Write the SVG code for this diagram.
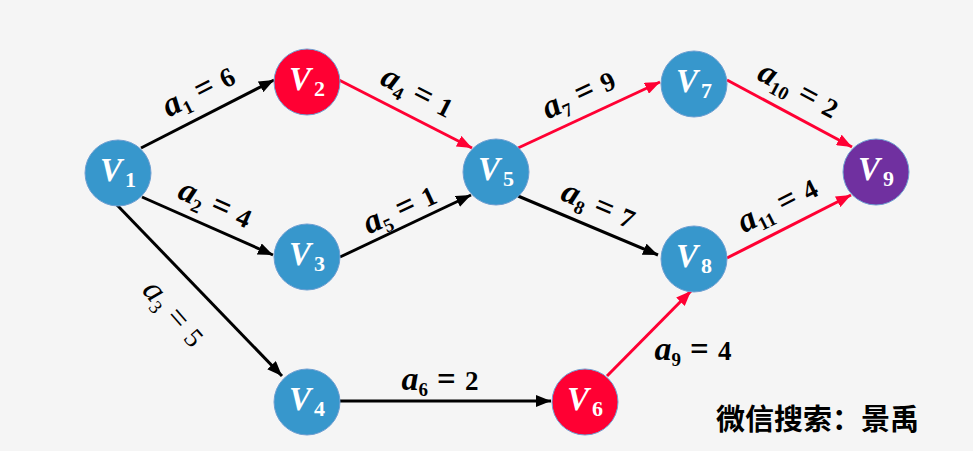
<svg xmlns="http://www.w3.org/2000/svg" width="973" height="451" viewBox="0 0 973 451">
<style>
.bg{fill:#f5f5f5}
.nd{stroke:#6e9fd2;stroke-width:1}
.blue{fill:#3797cc}.red{fill:#ff0033}.pur{fill:#7030a0}
.nt{fill:#fff;font-family:"Liberation Serif",serif;font-weight:bold;text-anchor:middle}
.V{font-style:italic;font-size:33px}
.ns{font-size:22px}
.e{fill:none;stroke-width:3}
.k{stroke:#000}.r{stroke:#ff0033}
.lb{font-family:"Liberation Serif",serif;font-weight:bold;font-size:27px;fill:#000;text-anchor:middle}
.va{font-style:italic;font-size:34px}
.sb{font-size:19px}
.eq{font-size:33px}
.lr{font-weight:normal}
.wm{font-family:"Noto Sans CJK SC",sans-serif;font-weight:bold;font-size:29px;fill:#000}
</style>
<defs>
<marker id="ak" markerUnits="userSpaceOnUse" markerWidth="16" markerHeight="12" refX="15" refY="6" orient="auto"><path d="M0,0 L15,6 L0,12 z" fill="#000"/></marker>
<marker id="ar" markerUnits="userSpaceOnUse" markerWidth="16" markerHeight="12" refX="15" refY="6" orient="auto"><path d="M0,0 L15,6 L0,12 z" fill="#ff0033"/></marker>
</defs>
<rect class="bg" x="0" y="0" width="973" height="451"/>
<g id="edges">
<line class="e k" x1="141" y1="148" x2="274" y2="80" marker-end="url(#ak)"/>
<line class="e r" x1="339" y1="80" x2="472" y2="148" marker-end="url(#ar)"/>
<line class="e k" x1="142" y1="197" x2="273" y2="255" marker-end="url(#ak)"/>
<line class="e k" x1="340" y1="257" x2="471" y2="195" marker-end="url(#ak)"/>
<line class="e k" x1="117" y1="205" x2="282" y2="376" marker-end="url(#ak)"/>
<line class="e k" x1="340" y1="401" x2="551" y2="401" marker-end="url(#ak)"/>
<line class="e r" x1="518" y1="148" x2="660" y2="82" marker-end="url(#ar)"/>
<line class="e k" x1="518" y1="196" x2="658" y2="255" marker-end="url(#ak)"/>
<line class="e r" x1="727" y1="80" x2="852" y2="147" marker-end="url(#ar)"/>
<line class="e r" x1="727" y1="258" x2="851" y2="195" marker-end="url(#ar)"/>
<line class="e r" x1="607" y1="376" x2="691" y2="291" marker-end="url(#ar)"/>
<g id="labels">
<text class="lb" transform="translate(199,92) rotate(-27)" y="9"><tspan class="va">a</tspan><tspan class="sb" dy="6">1</tspan><tspan class="eq" dy="-6" dx="9">=</tspan><tspan dx="9">6</tspan></text>
<text class="lb" transform="translate(417,93) rotate(27)" y="9"><tspan class="va">a</tspan><tspan class="sb" dy="6">4</tspan><tspan class="eq" dy="-6" dx="9">=</tspan><tspan dx="9">1</tspan></text>
<text class="lb" transform="translate(215,205) rotate(24)" y="9"><tspan class="va">a</tspan><tspan class="sb" dy="6">2</tspan><tspan class="eq" dy="-6" dx="9">=</tspan><tspan dx="9">4</tspan></text>
<text class="lb" transform="translate(400,210) rotate(-25)" y="9"><tspan class="va">a</tspan><tspan class="sb" dy="6">5</tspan><tspan class="eq" dy="-6" dx="9">=</tspan><tspan dx="9">1</tspan></text>
<text class="lb lr" transform="translate(173,314) rotate(49)" y="9"><tspan class="va">a</tspan><tspan class="sb" dy="6">3</tspan><tspan class="eq" dy="-6" dx="9">=</tspan><tspan dx="9">5</tspan></text>
<text class="lb" x="440" y="390"><tspan class="va">a</tspan><tspan class="sb" dy="6">6</tspan><tspan class="eq" dy="-6" dx="9">=</tspan><tspan dx="9">2</tspan></text>
<text class="lb" transform="translate(579,95) rotate(-25)" y="9"><tspan class="va">a</tspan><tspan class="sb" dy="6">7</tspan><tspan class="eq" dy="-6" dx="9">=</tspan><tspan dx="9">9</tspan></text>
<text class="lb" transform="translate(598,206) rotate(23)" y="9"><tspan class="va">a</tspan><tspan class="sb" dy="6">8</tspan><tspan class="eq" dy="-6" dx="9">=</tspan><tspan dx="9">7</tspan></text>
<text class="lb" transform="translate(798,91) rotate(28)" y="9"><tspan class="va">a</tspan><tspan class="sb" dy="6">10</tspan><tspan class="eq" dy="-6" dx="9">=</tspan><tspan dx="9">2</tspan></text>
<text class="lb" transform="translate(778,206) rotate(-27)" y="9"><tspan class="va">a</tspan><tspan class="sb" dy="6">11</tspan><tspan class="eq" dy="-6" dx="9">=</tspan><tspan dx="9">4</tspan></text>
<text class="lb" x="693" y="360"><tspan class="va">a</tspan><tspan class="sb" dy="6">9</tspan><tspan class="eq" dy="-6" dx="9">=</tspan><tspan dx="9">4</tspan></text>
</g>
</g>
<g id="V1"><circle class="nd blue" cx="118" cy="173" r="33"/><text class="nt" x="118" y="181"><tspan class="V">V</tspan><tspan class="ns" dx="3" dy="6">1</tspan></text></g>
<g id="V2"><circle class="nd red" cx="307" cy="82" r="33"/><text class="nt" x="307" y="90"><tspan class="V">V</tspan><tspan class="ns" dx="3" dy="6">2</tspan></text></g>
<g id="V3"><circle class="nd blue" cx="307" cy="257" r="33"/><text class="nt" x="307" y="265"><tspan class="V">V</tspan><tspan class="ns" dx="3" dy="6">3</tspan></text></g>
<g id="V4"><circle class="nd blue" cx="307" cy="402" r="33"/><text class="nt" x="307" y="410"><tspan class="V">V</tspan><tspan class="ns" dx="3" dy="6">4</tspan></text></g>
<g id="V5"><circle class="nd blue" cx="496" cy="172" r="33"/><text class="nt" x="496" y="180"><tspan class="V">V</tspan><tspan class="ns" dx="3" dy="6">5</tspan></text></g>
<g id="V6"><circle class="nd red" cx="585" cy="402" r="33"/><text class="nt" x="585" y="410"><tspan class="V">V</tspan><tspan class="ns" dx="3" dy="6">6</tspan></text></g>
<g id="V7"><circle class="nd blue" cx="694" cy="84" r="33"/><text class="nt" x="694" y="92"><tspan class="V">V</tspan><tspan class="ns" dx="3" dy="6">7</tspan></text></g>
<g id="V8"><circle class="nd blue" cx="694" cy="259" r="33"/><text class="nt" x="694" y="267"><tspan class="V">V</tspan><tspan class="ns" dx="3" dy="6">8</tspan></text></g>
<g id="V9"><circle class="nd pur" cx="876" cy="172" r="33"/><text class="nt" x="876" y="180"><tspan class="V">V</tspan><tspan class="ns" dx="3" dy="6">9</tspan></text></g>
<text class="wm" x="716" y="430">微信搜索：景禹</text>
</svg>
